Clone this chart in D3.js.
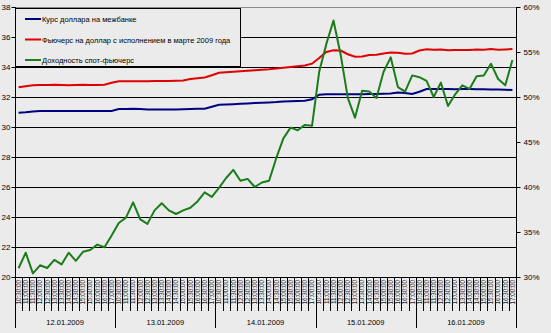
<!DOCTYPE html>
<html>
<head>
<meta charset="utf-8">
<script src="https://cdn.jsdelivr.net/npm/d3@7"></script>
<style>
  html, body { margin: 0; padding: 0; background: #ebebeb; }
  svg { display: block; font-family: "Liberation Sans", Arial, sans-serif; }
</style>
</head>
<body>
<svg id="chart" width="551" height="333"></svg>
<script>
// Trading days and intraday sampling times
const days = ["12.01.2009", "13.01.2009", "14.01.2009", "15.01.2009", "16.01.2009"];
const times = ["10:30", "11:00", "11:30", "12:00", "12:30", "13:00", "13:30",
               "14:00", "14:30", "15:00", "15:30", "16:00", "16:30", "17:00"];

// Interbank USD/RUB rate
const spotRate = [
  30.95, 30.98, 31.03, 31.06, 31.06, 31.06, 31.06, 31.06, 31.06, 31.06, 31.07, 31.07, 31.07, 31.07,
  31.20, 31.20, 31.21, 31.20, 31.17, 31.16, 31.16, 31.16, 31.17, 31.18, 31.20, 31.22, 31.22, 31.35,
  31.48, 31.50, 31.52, 31.55, 31.57, 31.60, 31.62, 31.64, 31.66, 31.70, 31.72, 31.73, 31.75, 31.85,
  32.15, 32.18, 32.18, 32.18, 32.18, 32.18, 32.19, 32.20, 32.20, 32.22, 32.24, 32.30, 32.27, 32.20,
  32.35, 32.53, 32.53, 32.53, 32.53, 32.52, 32.53, 32.53, 32.52, 32.52, 32.50, 32.50, 32.48, 32.47
];

// USD futures, March 2009 expiry
const futures = [
  32.65, 32.72, 32.78, 32.80, 32.80, 32.81, 32.80, 32.79, 32.80, 32.81, 32.80, 32.80, 32.82, 32.95,
  33.05, 33.05, 33.05, 33.05, 33.05, 33.06, 33.06, 33.07, 33.08, 33.10, 33.20, 33.25, 33.30, 33.45,
  33.62, 33.65, 33.68, 33.72, 33.75, 33.78, 33.82, 33.85, 33.90, 33.95, 34.00, 34.05, 34.10, 34.22,
  34.60, 35.00, 35.12, 35.10, 34.85, 34.68, 34.70, 34.80, 34.82, 34.90, 34.97, 34.95, 34.88, 34.90,
  35.10, 35.18, 35.15, 35.17, 35.12, 35.13, 35.14, 35.14, 35.16, 35.15, 35.20, 35.15, 35.17, 35.20
];

// Spot-futures yield, % (right axis)
const spreadYield = [
  30.97, 32.7, 30.4, 31.3, 31.0, 31.9, 31.4, 32.7, 31.8, 32.8, 33.0, 33.6, 33.3, 34.6,
  36.0, 36.6, 38.3, 36.4, 35.9, 37.4, 38.2, 37.4, 37.0, 37.4, 37.7, 38.4, 39.4, 38.9,
  39.9, 41.0, 41.9, 40.7, 40.9, 40.0, 40.5, 40.7, 43.2, 45.4, 46.6, 46.3, 46.9, 46.8,
  52.8, 55.9, 58.5, 54.7, 49.9, 47.7, 50.7, 50.6, 49.9, 52.8, 54.4, 51.1, 50.6, 52.4,
  52.2, 51.8, 50.0, 51.6, 49.0, 50.3, 51.3, 50.9, 52.3, 52.4, 53.7, 52.0, 51.3, 54.1
];

const leftTicks = [20, 22, 24, 26, 28, 30, 32, 34, 36, 38];
const rightTicks = [30, 35, 40, 45, 50, 55, 60];

const seriesNames = [
  "Курс доллара на межбанке",
  "Фьючерс на доллар с исполнением в марте 2009 года",
  "Доходность спот-фьючерс"
];
const seriesColors = ["#000080", "#e00000", "#1a7d1a"];

const categories = [];
days.forEach(d => times.forEach(t => categories.push({ day: d, time: t })));

const svg = d3.select("#chart");
const plot = { left: 15, right: 516, top: 7, bottom: 277 };

const x = d3.scaleBand()
  .domain(d3.range(categories.length))
  .range([plot.left, plot.right])
  .paddingInner(0).paddingOuter(0);
const cx = i => x(i) + x.bandwidth() / 2;

const yL = d3.scaleLinear().domain([20, 38]).range([plot.bottom, plot.top]);
const yR = d3.scaleLinear().domain([30, 60]).range([plot.bottom, plot.top]);

// Horizontal gridlines
svg.append("g")
  .selectAll("line")
  .data(leftTicks.filter(v => v < 38))
  .join("line")
  .attr("x1", plot.left).attr("x2", plot.right)
  .attr("y1", d => Math.round(yL(d)) + 0.5).attr("y2", d => Math.round(yL(d)) + 0.5)
  .attr("stroke", "#000").attr("stroke-width", 1);

// Top border of the plot area
svg.append("line")
  .attr("x1", plot.left).attr("x2", plot.right)
  .attr("y1", plot.top + 0.5).attr("y2", plot.top + 0.5)
  .attr("stroke", "#8c8c8c");

// Series lines
const line = (scale) => d3.line().x((d, i) => cx(i)).y(d => scale(d));

svg.append("path").datum(spotRate)
  .attr("d", line(yL)).attr("fill", "none")
  .attr("stroke", seriesColors[0]).attr("stroke-width", 2);
svg.append("path").datum(futures)
  .attr("d", line(yL)).attr("fill", "none")
  .attr("stroke", seriesColors[1]).attr("stroke-width", 2);
svg.append("path").datum(spreadYield)
  .attr("d", line(yR)).attr("fill", "none")
  .attr("stroke", seriesColors[2]).attr("stroke-width", 2)
  .attr("stroke-linejoin", "round");

// Left axis
const axL = svg.append("g")
  .attr("transform", `translate(${plot.left + 0.5},0)`)
  .call(d3.axisLeft(yL).tickValues(leftTicks).tickSize(4).tickSizeOuter(0).tickFormat(d3.format("d")));
axL.select(".domain").remove();
axL.selectAll("line").attr("stroke", "#000");
axL.selectAll("text").attr("font-size", 8).attr("fill", "#000").attr("x", -5);
svg.append("line")
  .attr("x1", plot.left + 0.5).attr("x2", plot.left + 0.5)
  .attr("y1", plot.top).attr("y2", 328).attr("stroke", "#000");

// Right axis
const axR = svg.append("g")
  .attr("transform", `translate(${plot.right + 0.5},0)`)
  .call(d3.axisRight(yR).tickValues(rightTicks).tickSize(4).tickSizeOuter(0).tickFormat(d => d + "%"));
axR.select(".domain").remove();
axR.selectAll("line").attr("stroke", "#000");
axR.selectAll("text").attr("font-size", 8).attr("fill", "#000").attr("x", 7);
svg.append("line")
  .attr("x1", plot.right + 0.5).attr("x2", plot.right + 0.5)
  .attr("y1", plot.top).attr("y2", 328).attr("stroke", "#000");

// Category axis: time ticks and rotated labels
const catG = svg.append("g");
catG.selectAll("line.tick")
  .data(d3.range(categories.length + 1))
  .join("line")
  .attr("class", "tick")
  .attr("x1", i => Math.round(i < categories.length ? x(i) : plot.right) + 0.5)
  .attr("x2", i => Math.round(i < categories.length ? x(i) : plot.right) + 0.5)
  .attr("y1", plot.bottom).attr("y2", 311)
  .attr("stroke", "#000");
catG.selectAll("text")
  .data(categories)
  .join("text")
  .attr("transform", (d, i) => `translate(${cx(i) + 2.3},${plot.bottom + 3}) rotate(-90)`)
  .attr("text-anchor", "end")
  .attr("font-size", 6.3)
  .attr("fill", "#222")
  .text(d => d.time + ":00");

// Day groups
svg.append("g").selectAll("line")
  .data(d3.range(days.length + 1))
  .join("line")
  .attr("x1", i => Math.round(x(i * times.length) ?? plot.right) + 0.5)
  .attr("x2", i => Math.round(x(i * times.length) ?? plot.right) + 0.5)
  .attr("y1", plot.bottom).attr("y2", 328)
  .attr("stroke", "#000");
svg.append("g").selectAll("text")
  .data(days)
  .join("text")
  .attr("x", (d, i) => (x(i * times.length) + (x((i + 1) * times.length - 1) + x.bandwidth())) / 2)
  .attr("y", 325)
  .attr("text-anchor", "middle")
  .attr("font-size", 7.5)
  .attr("fill", "#000")
  .text(d => d);

// Legend
const lg = svg.append("g");
lg.append("rect")
  .attr("x", plot.left + 0.5).attr("y", 8.5)
  .attr("width", 225).attr("height", 58)
  .attr("fill", "#ebebeb").attr("stroke", "#000");
seriesNames.forEach((name, k) => {
  const yy = 19 + k * 20.5;
  lg.append("line")
    .attr("x1", 25).attr("x2", 41)
    .attr("y1", yy).attr("y2", yy)
    .attr("stroke", seriesColors[k]).attr("stroke-width", 2);
  lg.append("text")
    .attr("x", 42).attr("y", yy + 3)
    .attr("font-size", 7.5)
    .attr("fill", "#000")
    .text(name);
});
</script>
</body>
</html>
